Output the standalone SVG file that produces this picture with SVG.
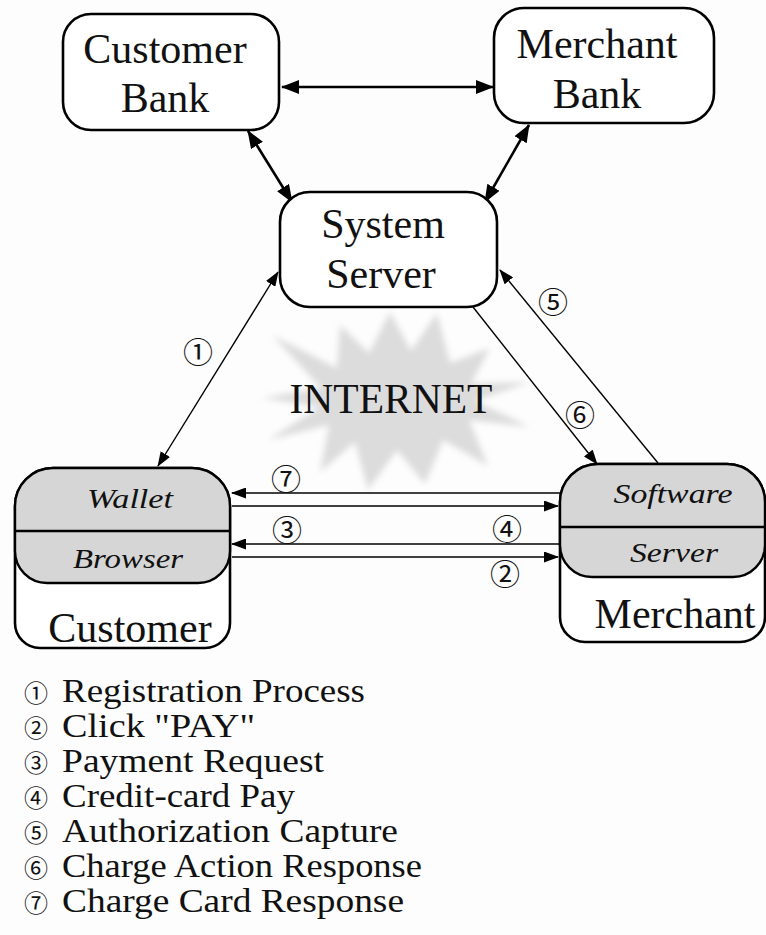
<svg xmlns="http://www.w3.org/2000/svg" width="766" height="935" viewBox="0 0 766 935">
  <defs>
    <style>
      .box { fill: #ffffff; stroke: #000000; stroke-width: 2.6; }
      .band { fill: #d6d6d6; stroke: #000000; stroke-width: 2.4; }
      .rule { stroke: #000000; stroke-width: 2.4; }
      .title { font-family: "Liberation Serif", "Times New Roman", serif; font-size: 42px; fill: #111111; text-anchor: middle; }
      .part { font-family: "Liberation Serif", "Times New Roman", serif; font-style: italic; font-size: 28px; fill: #111111; text-anchor: middle; }
      .legend { font-family: "Liberation Serif", "Times New Roman", serif; font-size: 34px; fill: #111111; }
      .num { font-family: "Noto Sans CJK JP", "DejaVu Sans", sans-serif; font-size: 30px; fill: #111111; text-anchor: middle; dominant-baseline: central; }
      .bullet { font-size: 24px; }
      .thick { stroke: #000000; stroke-width: 2.6; fill: none; }
      .thin { stroke: #000000; stroke-width: 1.4; fill: none; }
    </style>
    <marker id="headBig" markerUnits="userSpaceOnUse" markerWidth="18" markerHeight="14" viewBox="0 0 18 14" refX="17" refY="7" orient="auto">
      <path d="M0,0 L18,7 L0,14 Z" fill="#000"/>
    </marker>
    <marker id="tailBig" markerUnits="userSpaceOnUse" markerWidth="18" markerHeight="14" viewBox="0 0 18 14" refX="1" refY="7" orient="auto">
      <path d="M18,0 L0,7 L18,14 Z" fill="#000"/>
    </marker>
    <marker id="head" markerUnits="userSpaceOnUse" markerWidth="15" markerHeight="11" viewBox="0 0 15 11" refX="14" refY="5.5" orient="auto">
      <path d="M0,0 L15,5.5 L0,11 Z" fill="#000"/>
    </marker>
    <marker id="tail" markerUnits="userSpaceOnUse" markerWidth="15" markerHeight="11" viewBox="0 0 15 11" refX="1" refY="5.5" orient="auto">
      <path d="M15,0 L0,5.5 L15,11 Z" fill="#000"/>
    </marker>
    <filter id="soft" x="-20%" y="-20%" width="140%" height="140%">
      <feGaussianBlur stdDeviation="3"/>
    </filter>
  </defs>

  <rect width="766" height="935" fill="#fdfdfd"/>

  <!-- internet starburst behind everything -->
  <g id="internet">
    <polygon fill="#dcdcdc" filter="url(#soft)" points="437,313 450,363 490,348 471,384 530,382 475,401 530,427 469,420 488,466 443,440 425,484 397,450 368,490 355,442 320,472 329,425 268,440 320,407 262,398 321,388 272,335 337,368 340,325 369,353 390,312 411,351"/>
    <text class="title" x="391" y="413" textLength="203" lengthAdjust="spacingAndGlyphs">INTERNET</text>
  </g>

  <!-- connectors -->
  <g id="connectors">
    <line class="thick" x1="282" y1="87" x2="493" y2="87" marker-start="url(#tailBig)" marker-end="url(#headBig)"/>
    <line class="thick" x1="248" y1="131" x2="292" y2="202" marker-start="url(#tailBig)" marker-end="url(#headBig)"/>
    <line class="thick" x1="529" y1="125" x2="485" y2="202" marker-start="url(#tailBig)" marker-end="url(#headBig)"/>
    <line class="thin" x1="158" y1="466" x2="278" y2="272" marker-start="url(#tail)" marker-end="url(#head)"/>
    <line class="thin" x1="658" y1="463" x2="500" y2="270" marker-end="url(#head)"/>
    <line class="thin" x1="473" y1="307" x2="597" y2="464" marker-end="url(#head)"/>
    <line class="thin" x1="560" y1="493" x2="232" y2="493" marker-end="url(#head)"/>
    <line class="thin" x1="232" y1="506" x2="558" y2="506" marker-end="url(#head)"/>
    <line class="thin" x1="560" y1="544" x2="232" y2="544" marker-end="url(#head)"/>
    <line class="thin" x1="232" y1="557" x2="558" y2="557" marker-end="url(#head)"/>
    <text class="num" x="198" y="350">①</text>
    <text class="num" x="553" y="300">⑤</text>
    <text class="num" x="580" y="413">⑥</text>
    <text class="num" x="286" y="477">⑦</text>
    <text class="num" x="287" y="528">③</text>
    <text class="num" x="507" y="527">④</text>
    <text class="num" x="505" y="572">②</text>
  </g>

  <g id="customer-bank">
    <rect class="box" x="63" y="14" width="216" height="116" rx="28" ry="28"/>
    <text class="title" x="165" y="63">Customer</text>
    <text class="title" x="165" y="112">Bank</text>
  </g>

  <g id="merchant-bank">
    <rect class="box" x="494" y="8" width="220" height="115" rx="30" ry="30"/>
    <text class="title" x="597" y="58">Merchant</text>
    <text class="title" x="597" y="108">Bank</text>
  </g>

  <g id="system-server">
    <rect class="box" x="280" y="192" width="217" height="115" rx="30" ry="30"/>
    <text class="title" x="383" y="238">System</text>
    <text class="title" x="381" y="288">Server</text>
  </g>

  <g id="customer">
    <path class="box" d="M53,468 H192 A38,38 0 0 1 230,506 V623 A25,25 0 0 1 205,648 H40 A25,25 0 0 1 15,623 V506 A38,38 0 0 1 53,468 Z"/>
    <path class="band" d="M53,468 H192 A38,38 0 0 1 230,506 V551 A32,32 0 0 1 198,583 H47 A32,32 0 0 1 15,551 V506 A38,38 0 0 1 53,468 Z"/>
    <line class="rule" x1="15" y1="531" x2="230" y2="531"/>
    <text class="part" x="130" y="508" textLength="86" lengthAdjust="spacingAndGlyphs">Wallet</text>
    <text class="part" x="128" y="568" textLength="110" lengthAdjust="spacingAndGlyphs">Browser</text>
    <text class="title" x="130" y="642" font-size="41">Customer</text>
  </g>

  <g id="merchant">
    <path class="box" d="M598,464 H727 A38,38 0 0 1 765,502 V617 A25,25 0 0 1 740,642 H585 A25,25 0 0 1 560,617 V502 A38,38 0 0 1 598,464 Z"/>
    <path class="band" d="M598,464 H727 A38,38 0 0 1 765,502 V545 A32,32 0 0 1 733,577 H592 A32,32 0 0 1 560,545 V502 A38,38 0 0 1 598,464 Z"/>
    <line class="rule" x1="560" y1="527" x2="765" y2="527"/>
    <text class="part" x="673" y="503" textLength="119" lengthAdjust="spacingAndGlyphs">Software</text>
    <text class="part" x="674" y="562" textLength="88" lengthAdjust="spacingAndGlyphs">Server</text>
    <text class="title" x="675" y="628">Merchant</text>
  </g>

  <!-- legend: circled step number followed by its meaning -->
  <g id="legend">
    <text class="num bullet" x="36" y="691">①</text>
    <text class="legend" x="62" y="702" textLength="303" lengthAdjust="spacingAndGlyphs">Registration Process</text>
    <text class="num bullet" x="36" y="726">②</text>
    <text class="legend" x="62" y="737" textLength="193" lengthAdjust="spacingAndGlyphs">Click "PAY"</text>
    <text class="num bullet" x="36" y="761">③</text>
    <text class="legend" x="62" y="772" textLength="262" lengthAdjust="spacingAndGlyphs">Payment Request</text>
    <text class="num bullet" x="36" y="796">④</text>
    <text class="legend" x="62" y="807" textLength="233" lengthAdjust="spacingAndGlyphs">Credit-card Pay</text>
    <text class="num bullet" x="36" y="831">⑤</text>
    <text class="legend" x="62" y="842" textLength="336" lengthAdjust="spacingAndGlyphs">Authorization Capture</text>
    <text class="num bullet" x="36" y="866">⑥</text>
    <text class="legend" x="62" y="877" textLength="360" lengthAdjust="spacingAndGlyphs">Charge Action Response</text>
    <text class="num bullet" x="36" y="901">⑦</text>
    <text class="legend" x="62" y="912" textLength="342" lengthAdjust="spacingAndGlyphs">Charge Card Response</text>
  </g>
</svg>
